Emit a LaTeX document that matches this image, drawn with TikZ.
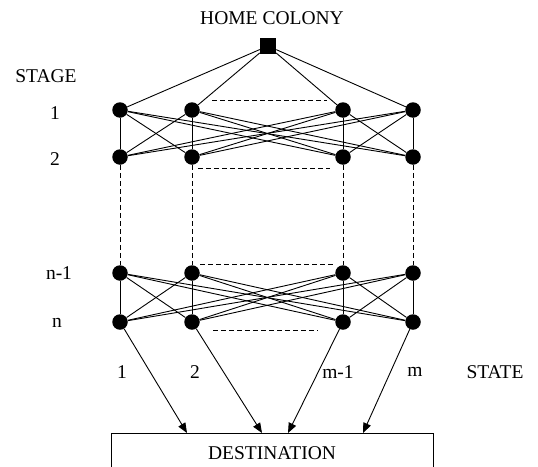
\documentclass[tikz,border=0pt]{standalone}
\usepackage{fontspec}
\setmainfont{Liberation Serif}
\usetikzlibrary{arrows.meta}
\begin{document}
\begin{tikzpicture}[x=1pt,y=-1pt,
  dot/.style={circle,fill=black,inner sep=0pt,minimum size=15.5pt},
  homebox/.style={fill=black,inner sep=0pt,minimum size=16pt},
  lbl/.style={font=\fontsize{19.5}{22}\selectfont,inner sep=0pt},
  edge/.style={line width=0.9pt},
  dashline/.style={line width=0.9pt,dash pattern=on 5pt off 3pt},
  arr/.style={line width=0.9pt,-{Triangle[length=10pt,width=8pt]}}]
\useasboundingbox (0,0) rectangle (538,466);
% nodes
\node[homebox] (home) at (268,46) {};
\foreach \c/\x in {1/120,2/192,3/343,4/413}{
  \node[dot] (a\c) at (\x,110) {};
  \node[dot] (b\c) at (\x,157) {};
  \node[dot] (c\c) at (\x,273) {};
  \node[dot] (d\c) at (\x,322) {};
}
% labels
\node[lbl] (home label) at (272,18) {HOME COLONY};
\node[lbl] (stage) at (46,76) {STAGE};
\node[lbl] (s1) at (55,113) {1};
\node[lbl] (s2) at (55,159) {2};
\node[lbl] (s3) at (59,273) {n-1};
\node[lbl] (s4) at (57,323) {n};
\node[lbl] (m1) at (122,372) {1};
\node[lbl] (m2) at (195,372) {2};
\node[lbl] (m3) at (338,372) {m-1};
\node[lbl] (m4) at (415,372) {m};
\node[lbl] (state) at (495,372) {STATE};
\node[draw,line width=0.9pt,anchor=north,minimum width=322pt,minimum height=40pt,font=\fontsize{19.5}{22}\selectfont] (dest) at (272,433) {DESTINATION};
% edges
\foreach \i in {1,...,4}{
  \draw[edge] (home) -- (a\i);
  \foreach \j in {1,...,4}{
    \draw[edge] (a\i) -- (b\j);
    \draw[edge] (c\i) -- (d\j);
  }
  \draw[dashline] (b\i) -- (c\i);
}
% horizontal dashed lines
\coordinate (h1a) at (212,100); \coordinate (h1b) at (327,100);
\coordinate (h2a) at (198,168); \coordinate (h2b) at (330,168);
\coordinate (h3a) at (200,264); \coordinate (h3b) at (335,264);
\coordinate (h4a) at (213,330); \coordinate (h4b) at (318,330);
\draw[dashline] (h1a) -- (h1b);
\draw[dashline] (h2a) -- (h2b);
\draw[dashline] (h3a) -- (h3b);
\draw[dashline] (h4a) -- (h4b);
% arrows to destination
\coordinate (t1) at (187,433);
\coordinate (t2) at (262,433);
\coordinate (t3) at (288,433);
\coordinate (t4) at (363,433);
\foreach \i in {1,...,4}{
  \draw[arr] (d\i) -- (t\i);
}
\end{tikzpicture}
\end{document}
